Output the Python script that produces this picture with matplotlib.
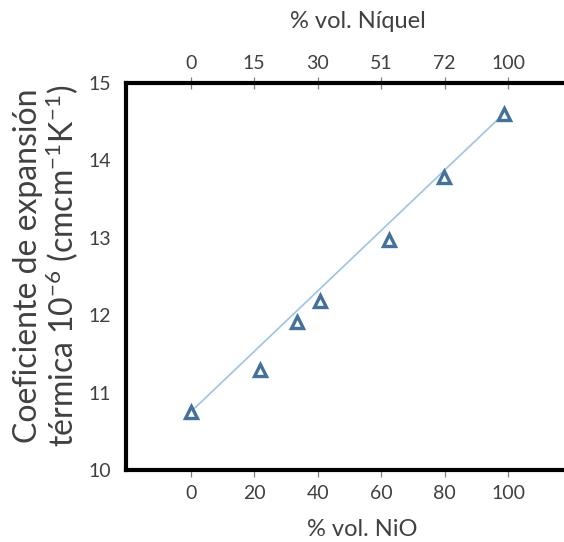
import matplotlib
matplotlib.use("Agg")
import matplotlib.pyplot as plt

plt.rcParams['font.family'] = ['Lato', 'DejaVu Sans']
plt.rcParams['mathtext.fontset'] = 'custom'
plt.rcParams['mathtext.rm'] = 'Lato'
plt.rcParams['mathtext.it'] = 'Lato:italic'
plt.rcParams['mathtext.bf'] = 'Lato:bold'

# Measured thermal expansion vs. NiO content
nio_vol = [0, 21.9, 33.4, 40.6, 62.6, 79.7, 98.6]
cte = [10.75, 11.29, 11.91, 12.18, 12.97, 13.79, 14.60]

# Trend line drawn between the first and last measurements
trend_x = [nio_vol[0], nio_vol[-1]]
trend_y = [cte[0], cte[-1]]

# Axis ticks
nio_ticks = [0, 20, 40, 60, 80, 100]
niquel_labels = ['0', '15', '30', '51', '72', '100']
y_ticks = [10, 11, 12, 13, 14, 15]

text_col = '#404040'
marker_col = '#41719C'
line_col = '#9DC3E6'

W, H = 564, 542
fig = plt.figure(figsize=(W / 100, H / 100), dpi=100)
ax_left, ax_right, ax_top, ax_bot = 126, 580, 83, 470
ax = fig.add_axes([ax_left / W, 1 - ax_bot / H,
                   (ax_right - ax_left) / W, (ax_bot - ax_top) / H])

ax.plot(trend_x, trend_y, color=line_col, lw=1.2, zorder=2)
ax.plot(nio_vol, cte, linestyle='none', marker='^', markersize=8.5,
        markerfacecolor='white', markeredgecolor=marker_col,
        markeredgewidth=2.4, zorder=3)

px_per_unit = (508 - 190.7) / 100
ax.set_xlim((ax_left - 190.7) / px_per_unit, (ax_right - 190.7) / px_per_unit)
ax.set_ylim(10, 15)

ax.spines['right'].set_visible(False)
for side in ('left', 'top', 'bottom'):
    ax.spines[side].set_linewidth(3.0)
    ax.spines[side].set_color('black')
    ax.spines[side].set_capstyle('projecting')

ax.set_xticks(nio_ticks)
ax.set_yticks(y_ticks)
ax.tick_params(axis='x', which='major', direction='out', length=5, width=0.9,
               color='#808080', labelsize=14, labelcolor=text_col, pad=6)
ax.tick_params(axis='y', length=0, labelsize=14, labelcolor=text_col, pad=11)

# Top axis with nickel content
top = ax.secondary_xaxis('top')
top.set_xticks(nio_ticks)
top.set_xticklabels(niquel_labels)
top.spines['top'].set_visible(False)
top.tick_params(direction='inout', length=8, width=0.9, color='#808080',
                labelsize=14, labelcolor=text_col, pad=4)

# Axis titles
fig.text(362 / W, 1 - 530 / H, '% vol. NiO', fontsize=17, color=text_col,
         ha='center', va='center')
fig.text(358 / W, 1 - 22 / H, '% vol. Níquel', fontsize=17, color=text_col,
         ha='center', va='center')
fig.text(47 / W, 1 - 266 / H,
         'Coeficiente de expansión\ntérmica 10$^{\\mathrm{-6}}$ (cmcm$^{\\mathrm{-1}}$K$^{\\mathrm{-1}}$)',
         fontsize=23, color=text_col, rotation=90, ha='center', va='center',
         multialignment='center', linespacing=1.05)

fig.savefig('out.png', dpi=100)
